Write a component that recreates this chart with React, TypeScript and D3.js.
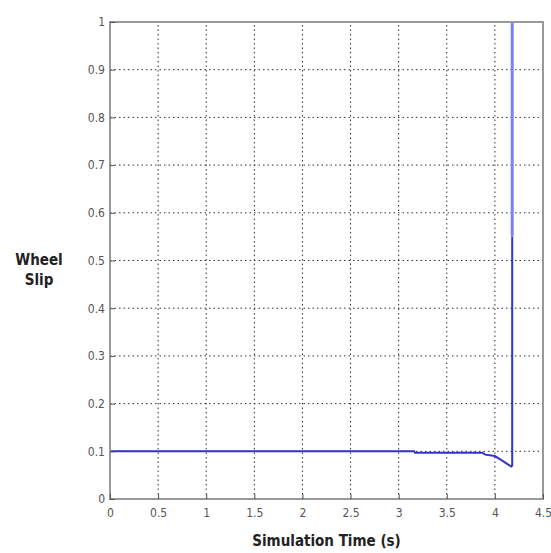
import React, { useEffect, useRef } from "react";
import * as d3 from "d3";

// simulation data
const time = [0, 0, 3.16, 3.17, 3.87, 3.9, 4.0, 4.08, 4.17, 4.18, 4.18];
const slip = [0, 0.1, 0.1, 0.097, 0.097, 0.093, 0.09, 0.08, 0.068, 0.07, 0.55];
const spikeTime = [4.18, 4.18];
const spikeSlip = [0.55, 1];
const xTicks = [0, 0.5, 1, 1.5, 2, 2.5, 3, 3.5, 4, 4.5];
const yTicks = [0, 0.1, 0.2, 0.3, 0.4, 0.5, 0.6, 0.7, 0.8, 0.9, 1];

const App = () => {
  const svgRef = useRef<SVGSVGElement>(null);

  useEffect(() => {
    const svg = d3.select(svgRef.current);
    svg.selectAll("*").remove();

    const width = 551;
    const height = 553;
    const margin = { top: 22, right: 8, bottom: 54, left: 110 };
    const font = "'DejaVu Sans Condensed', 'DejaVu Sans', sans-serif";

    const x = d3.scaleLinear().domain([0, 4.5]).range([margin.left, width - margin.right]);
    const y = d3.scaleLinear().domain([0, 1]).range([height - margin.bottom, margin.top]);

    svg.attr("width", width).attr("height", height);
    svg.append("rect").attr("width", width).attr("height", height).attr("fill", "#fff");

    // grid
    const grid = svg.append("g").attr("stroke", "#333").attr("stroke-width", 1).attr("stroke-dasharray", "1.5,3");
    grid.selectAll("line.v").data(xTicks.slice(1, -1)).join("line")
      .attr("x1", (d) => x(d)).attr("x2", (d) => x(d))
      .attr("y1", y(0)).attr("y2", y(1));
    grid.selectAll("line.h").data(yTicks.slice(1, -1)).join("line")
      .attr("class", "h")
      .attr("x1", x(0)).attr("x2", x(4.5))
      .attr("y1", (d) => y(d)).attr("y2", (d) => y(d));

    // data line
    const line = d3.line<number>().x((d, i) => x(time[i])).y((d) => y(d));
    svg.append("path").datum(slip).attr("d", line)
      .attr("fill", "none").attr("stroke", "#3333cc").attr("stroke-width", 2);
    const spike = d3.line<number>().x((d, i) => x(spikeTime[i])).y((d) => y(d));
    svg.append("path").datum(spikeSlip).attr("d", spike)
      .attr("fill", "none").attr("stroke", "#8080ee").attr("stroke-width", 3);

    // box
    svg.append("rect")
      .attr("x", x(0)).attr("y", y(1))
      .attr("width", x(4.5) - x(0)).attr("height", y(0) - y(1))
      .attr("fill", "none").attr("stroke", "#999").attr("stroke-width", 2);

    // ticks
    const xAxis = svg.append("g").attr("transform", `translate(0,${y(0)})`)
      .call(d3.axisBottom(x).tickValues(xTicks).tickSize(-5).tickPadding(9).tickFormat(d3.format("~g")));
    const yAxis = svg.append("g").attr("transform", `translate(${x(0)},0)`)
      .call(d3.axisLeft(y).tickValues(yTicks).tickSize(-5).tickPadding(5).tickFormat(d3.format("~g")));
    [xAxis, yAxis].forEach((g) => {
      g.select(".domain").remove();
      g.selectAll("line").attr("stroke", "#555");
      g.selectAll("text").attr("fill", "#555")
        .style("font-family", font).style("font-stretch", "condensed").style("font-size", "12px");
    });

    // axis titles
    svg.append("text").attr("x", x(2.25)).attr("y", 546)
      .attr("text-anchor", "middle").attr("fill", "#222")
      .style("font-family", font).style("font-stretch", "condensed")
      .style("font-size", "15px").style("font-weight", "bold")
      .text("Simulation Time (s)");
    const yl = svg.append("text").attr("x", 39).attr("y", 265)
      .attr("text-anchor", "middle").attr("fill", "#222")
      .style("font-family", font).style("font-stretch", "condensed")
      .style("font-size", "15px").style("font-weight", "bold");
    yl.append("tspan").attr("x", 39).attr("dy", 0).text("Wheel");
    yl.append("tspan").attr("x", 39).attr("dy", 20).text("Slip");
  }, []);

  return <svg ref={svgRef} style={{ position: "absolute", left: 0, top: 0 }}></svg>;
};

export default App;
